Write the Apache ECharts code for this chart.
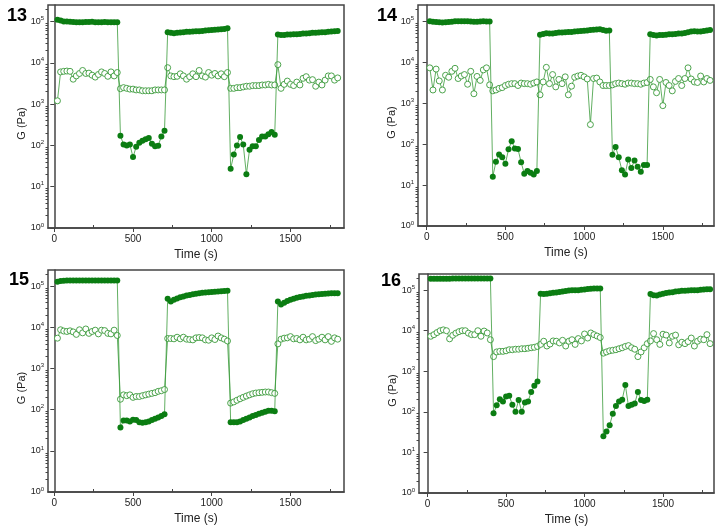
<!DOCTYPE html>
<html><head><meta charset="utf-8">
<script src="https://cdn.jsdelivr.net/npm/echarts@6/dist/echarts.min.js"></script>
<style>html,body{margin:0;padding:0;background:#fff}#c{width:721px;height:530px}</style>
</head><body><div id="c"></div><script>
// ---------- data ----------
const timeS = [20,40,60,80,100,120,140,160,180,200,220,240,260,280,300,320,340,360,380,400,
  420,440,460,480,500,520,540,560,580,600,620,640,660,680,700,
  720,740,760,780,800,820,840,860,880,900,920,940,960,980,1000,1020,1040,1060,1080,1100,
  1120,1140,1160,1180,1200,1220,1240,1260,1280,1300,1320,1340,1360,1380,1400,
  1420,1440,1460,1480,1500,1520,1540,1560,1580,1600,1620,1640,1660,1680,1700,1720,1740,1760,1780,1800];

const panelLabels = ['13','14','15','16'];

const storage13 = [1.1e5,1.05e5,1.0e5,1.0e5,9.8e4,9.7e4,9.6e4,9.6e4,9.6e4,9.7e4,9.7e4,9.8e4,9.6e4,9.6e4,9.6e4,9.7e4,9.6e4,9.5e4,9.6e4,9.6e4,
  170,105,100,105,52,92,115,130,140,150,110,95,98,165,225,
  5.5e4,5.3e4,5.2e4,5.3e4,5.4e4,5.5e4,5.6e4,5.6e4,5.7e4,5.8e4,5.8e4,5.9e4,6.0e4,6.1e4,6.2e4,6.3e4,6.4e4,6.5e4,6.6e4,6.8e4,
  27,60,100,160,105,20,78,95,95,135,165,165,185,210,180,
  4.8e4,4.7e4,4.7e4,4.8e4,4.8e4,4.9e4,4.9e4,5.0e4,5.1e4,5.1e4,5.2e4,5.3e4,5.3e4,5.4e4,5.5e4,5.5e4,5.6e4,5.7e4,5.8e4,5.9e4];
const loss13 = [1200,6000,6200,6300,6200,4000,4800,5500,6500,5500,5600,5000,4500,5200,6000,5500,4700,6000,4800,5800,
  2350,2500,2400,2300,2300,2200,2200,2100,2100,2100,2100,2200,2200,2200,2200,
  7600,4800,4600,4700,5400,4800,4000,4600,5400,4600,6500,4800,4500,5800,5000,5500,4800,5400,4600,5800,
  2400,2400,2500,2500,2600,2700,2700,2800,2800,2800,2900,2900,3000,2900,2900,
  9000,2400,3000,3600,3000,2800,3400,2900,4200,4600,3800,3900,2700,3400,2900,3800,4800,4800,3800,4300];

const storage14 = [1.0e5,9.8e4,9.6e4,9.5e4,9.4e4,9.5e4,9.6e4,9.8e4,1.0e5,1.0e5,1.0e5,1.0e5,1.0e5,9.9e4,9.8e4,9.8e4,9.9e4,1.0e5,9.9e4,9.9e4,
  16,37,56,48,33,75,118,78,76,36,19,22,20,18,22,
  4.7e4,4.9e4,5.1e4,5.0e4,5.0e4,5.2e4,5.3e4,5.3e4,5.4e4,5.5e4,5.5e4,5.6e4,5.7e4,5.8e4,5.9e4,6.0e4,6.1e4,6.2e4,6.3e4,6.4e4,6.1e4,5.9e4,6.0e4,
  55,85,48,23,18,42,26,40,28,21,31,31,
  4.8e4,4.6e4,4.5e4,4.6e4,4.6e4,4.7e4,4.8e4,4.8e4,4.9e4,5.0e4,5.0e4,5.2e4,5.4e4,5.6e4,5.7e4,5.6e4,5.6e4,5.8e4,6.0e4,6.1e4];
const loss14 = [7300,2100,6800,3500,2100,4800,4300,6000,7100,4000,4600,5000,2900,6000,1700,4500,3600,6500,7300,2800,
  2000,2100,2300,2400,2700,2900,3000,3000,2700,3100,3000,3000,2900,3100,3300,
  1600,3300,7500,3000,5000,2500,3800,3000,4400,1600,2600,4300,4600,4800,4400,3900,300,4000,4100,3300,2700,2700,2700,
  2800,3000,3100,3000,2900,3100,3100,3000,3000,2900,3100,3200,
  3800,2500,1800,3800,870,3200,2700,2000,3400,4000,2700,4000,7300,3900,3300,3200,4600,3300,4000,3600];

const storage15 = [1.30e5,1.35e5,1.37e5,1.38e5,1.38e5,1.38e5,1.38e5,1.38e5,1.38e5,1.38e5,1.38e5,1.38e5,1.38e5,1.38e5,1.38e5,1.38e5,1.38e5,1.38e5,1.38e5,1.38e5,
  37,55,55,52,57,56,50,48,50,52,56,60,65,70,78,
  5.0e4,4.3e4,4.7e4,5.1e4,5.4e4,5.7e4,6.0e4,6.2e4,6.4e4,6.6e4,6.8e4,7.0e4,7.1e4,7.2e4,7.3e4,7.4e4,7.5e4,7.6e4,7.7e4,7.8e4,
  50,50,50,52,56,60,65,70,75,80,85,90,95,95,92,
  4.3e4,3.6e4,4.0e4,4.4e4,4.7e4,5.0e4,5.3e4,5.5e4,5.7e4,5.9e4,6.0e4,6.2e4,6.3e4,6.4e4,6.5e4,6.6e4,6.7e4,6.8e4,6.8e4,6.8e4];
const loss15 = [5500,8800,8200,8000,8300,7800,6800,8800,7400,9200,7200,8000,8600,7000,8600,8400,7200,7000,8600,6400,
  180,230,220,230,200,210,210,220,230,240,250,260,280,290,310,
  5400,5400,5300,5800,5300,5800,5200,5100,5000,5600,5700,5600,5000,4900,5600,5100,6200,5600,5200,4700,
  145,155,170,185,200,215,230,245,255,260,265,270,270,260,250,
  4000,5200,5500,5600,6000,5300,5400,5000,5800,5000,5200,6000,4800,5200,5800,5000,6000,4600,5600,5200];

const storage16 = [1.9e5,1.9e5,1.9e5,1.9e5,1.9e5,1.92e5,1.92e5,1.93e5,1.93e5,1.94e5,1.95e5,1.95e5,1.95e5,1.94e5,1.94e5,1.93e5,1.93e5,1.93e5,1.93e5,1.93e5,
  92,145,205,180,240,250,150,100,195,100,170,180,310,440,560,
  8.2e4,8.0e4,8.2e4,8.4e4,8.6e4,8.8e4,9.0e4,9.2e4,9.5e4,9.8e4,1.0e5,1.0e5,1.0e5,1.02e5,1.04e5,1.06e5,1.08e5,1.1e5,1.1e5,1.1e5,
  25,33,47,90,140,180,200,460,140,150,160,310,195,185,200,
  8.0e4,7.5e4,7.4e4,7.8e4,8.2e4,8.5e4,8.7e4,8.9e4,9.2e4,9.4e4,9.6e4,9.7e4,9.8e4,9.9e4,1.0e5,1.0e5,1.02e5,1.04e5,1.05e5,1.05e5];
const loss16 = [7300,8000,9000,10000,10500,10000,6300,7700,8700,9500,10000,10000,8700,8000,8000,10000,7300,9800,8800,6000,
  2300,3000,3100,3100,3200,3400,3400,3500,3500,3600,3600,3700,3800,3900,4100,
  4600,5500,4200,4700,5600,5500,5000,5800,4200,5500,6000,4600,6400,5600,8300,6600,8800,8000,7400,6800,
  2800,3000,3200,3300,3400,3600,3800,4100,4300,3800,3500,2300,3000,3800,4800,
  5600,8500,6000,4600,8200,7800,5000,7300,7800,4500,5200,4800,5400,6600,4200,5500,6200,6000,8000,4800];

const xMajorTicks = [0, 500, 1000, 1500];
const xMinorTicks = [250, 750, 1250, 1750];
const yDecades = [1, 10, 100, 1000, 10000, 100000];
const yMinorMultipliers = [2, 3, 4, 5, 6, 7, 8, 9];

// ---------- layout / style ----------
const storageSets = [storage13, storage14, storage15, storage16];
const lossSets = [loss13, loss14, loss15, loss16];
const layouts = [
  {left: 48,  top: 5,   width: 296, height: 223, xmin: -40, xmax: 1840, lx: 7,   ly: 7},
  {left: 418, top: 5,   width: 296, height: 221, xmin: -55, xmax: 1825, lx: 377, ly: 7},
  {left: 48,  top: 270, width: 296, height: 222, xmin: -40, xmax: 1840, lx: 9,   ly: 271},
  {left: 419, top: 274, width: 295, height: 219, xmin: -55, xmax: 1825, lx: 381, ly: 272}
];
const yMax = 2.5e5;
const logMax = Math.log10(yMax);
const FONT = 'Liberation Sans, Arial, sans-serif';
const AX = '#444';
const fillGreen = '#0b7d12';
const lineGreen = '#3a9a3a';

const yMinorLog = [];
yDecades.forEach(d => yMinorMultipliers.forEach(m => { const v = Math.log10(m * d); if (v < logMax) yMinorLog.push(v); }));
const yMajorLog = yDecades.map(d => Math.log10(d));

const grid = [], xAxis = [], yAxis = [], series = [], title = [];
layouts.forEach((L, i) => {
  grid.push({left: L.left, top: L.top, width: L.width, height: L.height, show: true,
    borderColor: AX, borderWidth: 1.5, backgroundColor: 'transparent'});
  title.push({text: panelLabels[i], left: L.lx, top: L.ly, padding: 0,
    textStyle: {fontFamily: FONT, fontSize: 18, fontWeight: 'bold', color: '#000'}});
  const xi = xAxis.length;
  xAxis.push({type: 'value', gridIndex: i, min: L.xmin, max: L.xmax, position: 'bottom',
    name: 'Time (s)', nameLocation: 'middle', nameGap: 21, nameMoveOverlap: false,
    nameTextStyle: {fontFamily: FONT, fontSize: 12, color: '#222'},
    axisLine: {show: true, lineStyle: {color: AX, width: 1.5}},
    axisTick: {show: true, inside: false, length: 4, customValues: xMajorTicks, lineStyle: {color: AX, width: 1}},
    axisLabel: {show: true, customValues: xMajorTicks, margin: 6, fontFamily: FONT, fontSize: 10, color: '#222',
      formatter: v => String(v)},
    splitLine: {show: false}});
  xAxis.push({type: 'value', gridIndex: i, min: L.xmin, max: L.xmax, position: 'bottom',
    axisLine: {show: false}, axisLabel: {show: false}, splitLine: {show: false},
    axisTick: {show: true, inside: true, length: 3, customValues: xMinorTicks, lineStyle: {color: AX, width: 1}}});
  const yi = yAxis.length;
  yAxis.push({type: 'log', gridIndex: i, min: 1, max: yMax, logBase: 10, position: 'left',
    name: 'G (Pa)', nameLocation: 'middle', nameGap: 21, nameRotate: 90, nameMoveOverlap: false,
    nameTextStyle: {fontFamily: FONT, fontSize: 11, color: '#222', padding: [0, 14, 0, 0]},
    axisLine: {show: true, lineStyle: {color: AX, width: 1.5}},
    axisTick: {show: false}, splitLine: {show: false}, minorTick: {show: false},
    axisLabel: {show: true, showMaxLabel: false, margin: 4, fontFamily: FONT, color: '#222',
      formatter: v => {
        const e = Math.log10(v);
        if (Math.abs(e - Math.round(e)) > 1e-6) return '';
        return '{b|10}{e|' + Math.round(e) + '}';
      },
      rich: {b: {fontSize: 9, fontFamily: FONT, color: '#222'},
             e: {fontSize: 6, fontFamily: FONT, color: '#222', verticalAlign: 'top', padding: [0, 0, 6, 0]}}}});
  yAxis.push({type: 'value', gridIndex: i, min: 0, max: logMax, position: 'left',
    axisLine: {show: false}, axisLabel: {show: false}, splitLine: {show: false},
    axisTick: {show: true, inside: false, length: 4, customValues: yMajorLog, lineStyle: {color: AX, width: 1}}});
  yAxis.push({type: 'value', gridIndex: i, min: 0, max: logMax, position: 'left',
    axisLine: {show: false}, axisLabel: {show: false}, splitLine: {show: false},
    axisTick: {show: true, inside: false, length: 2.5, customValues: yMinorLog, lineStyle: {color: AX, width: 1}}});

  const lossData = timeS.map((t, k) => [t, lossSets[i][k]]);
  const storData = timeS.map((t, k) => [t, storageSets[i][k]]);
  series.push({type: 'line', xAxisIndex: xi, yAxisIndex: yi, data: lossData,
    symbol: 'circle', symbolSize: 6, showSymbol: true,
    itemStyle: {color: '#fff', borderColor: lineGreen, borderWidth: 0.9},
    lineStyle: {color: lineGreen, width: 0.8}, z: 2});
  series.push({type: 'line', xAxisIndex: xi, yAxisIndex: yi, data: storData,
    symbol: 'circle', symbolSize: 6, showSymbol: true,
    itemStyle: {color: fillGreen, borderColor: fillGreen, borderWidth: 0},
    lineStyle: {color: lineGreen, width: 0.8}, z: 3});
});

const chart = echarts.init(document.getElementById('c'), null, {renderer: 'canvas'});
chart.setOption({animation: false, backgroundColor: '#fff', title, grid, xAxis, yAxis, series});
</script></body></html>
